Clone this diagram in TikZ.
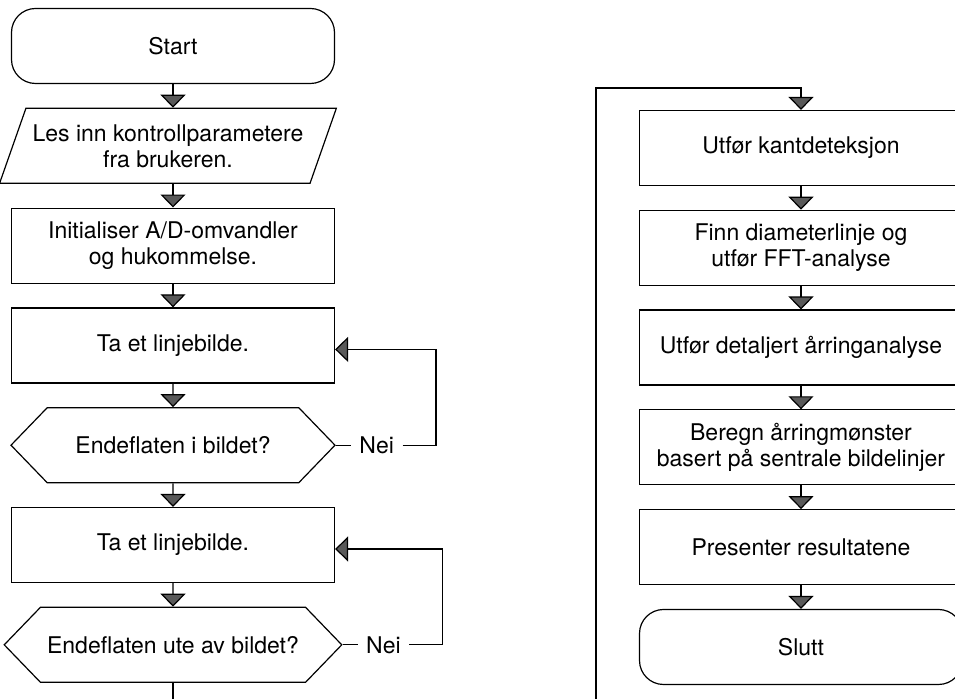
\documentclass[tikz,border=0pt]{standalone}
\usepackage{fontspec}
\setmainfont{TeX Gyre Heros}
\usetikzlibrary{positioning,shapes.geometric,shapes.symbols,arrows.meta}
\begin{document}
\begin{tikzpicture}[node distance={11.8pt}, line width=0.6pt,
    every node/.style = {font=\fontsize{11.5pt}{13pt}\selectfont, align=center},
    proc/.style = {draw, rectangle, minimum width=161.5pt, minimum height=37.5pt},
    term/.style = {proc, rounded corners=12pt},
    io/.style = {draw, trapezium, trapezium left angle=65, trapezium right angle=115,
                 trapezium stretches=true, minimum width=167pt, minimum height=37.5pt},
    decide/.style = {draw, signal, signal to=west and east, signal pointer angle=92,
                 minimum width=162pt, minimum height=37.5pt},
    no/.style = {inner sep=4pt},
    flow/.style = {-{Triangle[width=12.5pt,length=6.5pt,fill=black!65]}}]
    \useasboundingbox (0,0) rectangle (477.5pt,-349.5pt);
    \clip (0,0) rectangle (477.5pt,-349.5pt);
    % left column
    \node[term] (start) at (86.5pt,-23pt) {Start};
    \node[io] (les) [below=of start, xshift=-2.5pt] {Les inn kontrollparametere\\fra brukeren.};
    \node[proc] (init) [below=of les.south -| start.south] {Initialiser A/D-omvandler\\og hukommelse.};
    \node[proc] (ta1) [below=of init] {Ta et linjebilde.};
    \node[decide] (ende1) [below=of ta1] {Endeflaten i bildet?};
    \node[proc] (ta2) [below=of ende1] {Ta et linjebilde.};
    \node[decide] (ende2) [below=of ta2] {Endeflaten ute av bildet?};
    \node[no] (nei1) [right=7.5pt of ende1] {Nei};
    \node[no] (nei2) [right=7.5pt of ende2] {Nei};
    % right column
    \node[proc] (kant) at (400.5pt,-74pt) {Utfør kantdeteksjon};
    \node[proc] (fft) [below=of kant] {Finn diameterlinje og\\utfør FFT-analyse};
    \node[proc] (aar) [below=of fft] {Utfør detaljert årringanalyse};
    \node[proc] (mon) [below=of aar] {Beregn årringmønster\\basert på sentrale bildelinjer};
    \node[proc] (res) [below=of mon] {Presenter resultatene};
    \node[term] (slutt) [below=of res] {Slutt};
    \coordinate (bend) at (298pt,-44pt);
    % connectors
    \draw[flow] (start) -- (start |- les.north);
    \draw[flow] (init |- les.south) -- (init);
    \draw[flow] (init) -- (ta1);
    \draw[flow] (ta1) -- (ende1);
    \draw[flow] (ende1) -- (ta2);
    \draw[flow] (ta2) -- (ende2);
    \draw (ende1.east) -- (nei1.west);
    \draw (ende2.east) -- (nei2.west);
    \draw[flow] (nei1.east) -- ++(16.75pt,0) |- ([yshift=-2pt]ta1.east);
    \draw[flow] (nei2.east) -- ++(16.75pt,0) |- ([yshift=-2pt]ta2.east);
    \draw[flow] (ende2.south) -- ++(0,-30pt) -| (bend) -| (kant.north);
    \draw[flow] (kant) -- (fft);
    \draw[flow] (fft) -- (aar);
    \draw[flow] (aar) -- (mon);
    \draw[flow] (mon) -- (res);
    \draw[flow] (res) -- (slutt);
\end{tikzpicture}
\end{document}
